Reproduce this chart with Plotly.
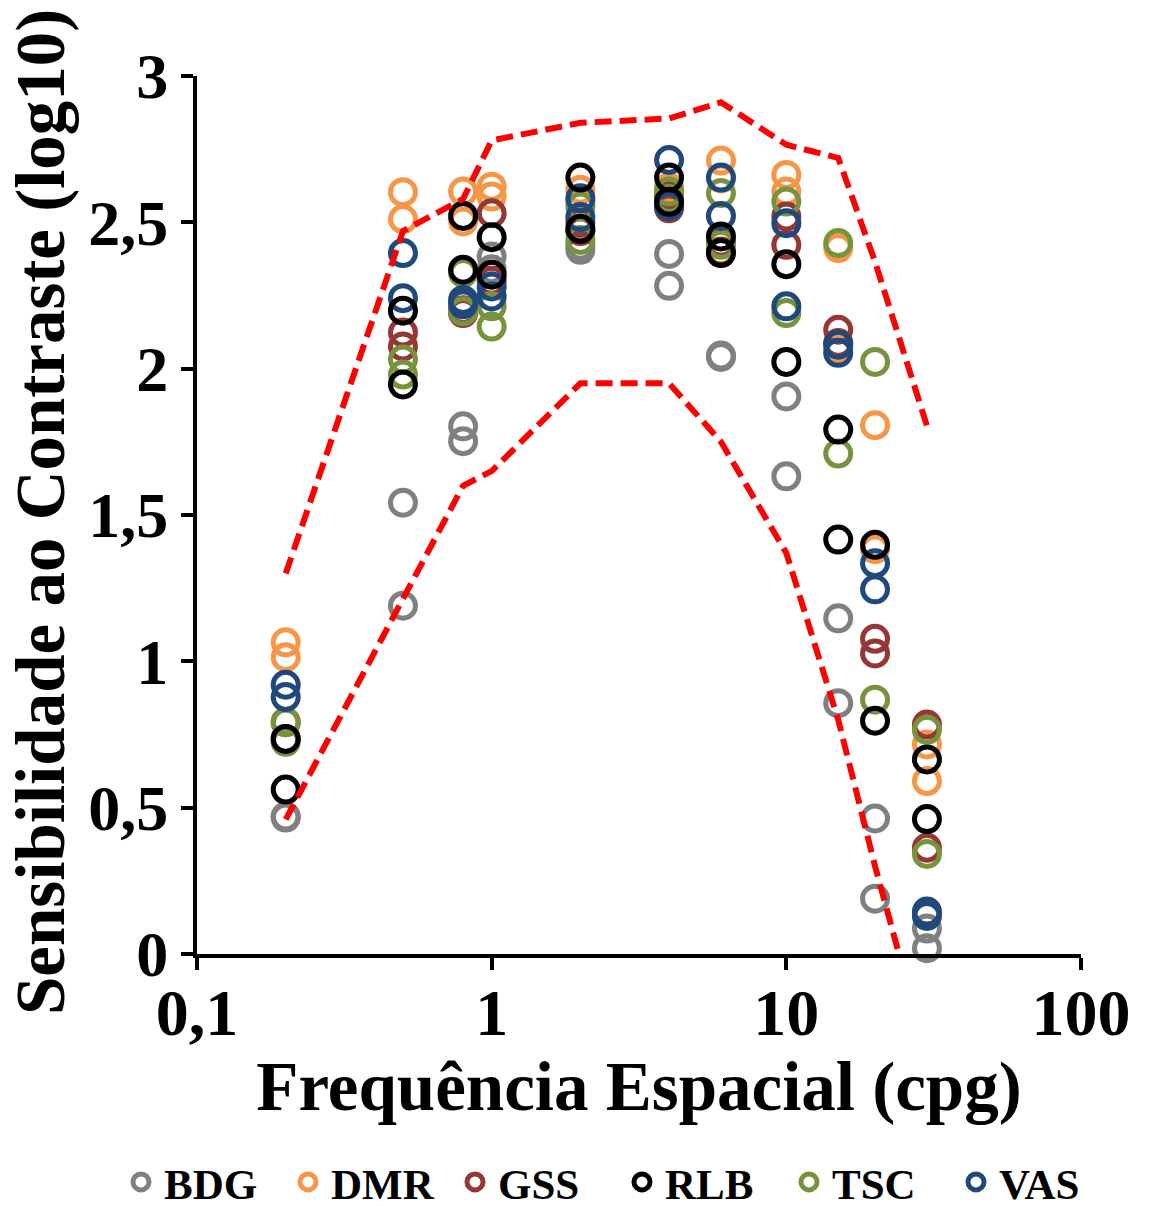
import plotly.graph_objects as go

freqs = [0.2, 0.5, 0.8, 1, 2, 4, 6, 10, 15, 20, 30]

bdg_a = [0.466, 1.542, 1.803, 2.383, 2.406, 2.392, 2.045, 1.905, 1.147, 0.463, 0.087]
bdg_b = [0.470, 1.190, 1.752, 2.340, 2.420, 2.283, 2.040, 1.632, 0.857, 0.189, 0.020]
dmr_a = [1.065, 2.603, 2.605, 2.622, 2.611, 2.620, 2.711, 2.662, 2.412, 1.807, 0.716]
dmr_b = [1.014, 2.511, 2.503, 2.588, 2.571, 2.600, 2.650, 2.605, 2.070, 1.383, 0.591]
gss_a = [0.792, 2.124, 2.190, 2.531, 2.500, 2.548, 2.430, 2.520, 2.133, 1.077, 0.784]
gss_b = [0.735, 2.076, 2.200, 2.300, 2.470, 2.590, 2.400, 2.423, 2.088, 1.027, 0.363]
rlb_a = [0.735, 2.198, 2.522, 2.449, 2.653, 2.653, 2.452, 2.357, 1.792, 1.398, 0.665]
rlb_b = [0.562, 1.946, 2.338, 2.321, 2.478, 2.570, 2.395, 2.023, 1.416, 0.797, 0.461]
tsc_a = [0.792, 2.031, 2.327, 2.213, 2.554, 2.605, 2.600, 2.571, 2.429, 2.023, 0.766]
tsc_b = [0.725, 1.980, 2.196, 2.144, 2.440, 2.580, 2.423, 2.190, 1.710, 0.869, 0.342]
vas_a = [0.920, 2.395, 2.235, 2.281, 2.582, 2.713, 2.653, 2.497, 2.082, 1.335, 0.145]
vas_b = [0.878, 2.241, 2.220, 2.247, 2.518, 2.556, 2.522, 2.213, 2.054, 1.246, 0.130]

upper_limit = [1.30, 2.47, 2.58, 2.78, 2.84, 2.855, 2.91, 2.765, 2.72, 2.365, 1.805]
lower_limit = [0.46, 1.22, 1.60, 1.65, 1.95, 1.95, 1.75, 1.37, 0.80, 0.30, -0.35]

x_tickvals = [0.1, 1, 10, 100]
x_ticktext = ["0,1", "1", "10", "100"]
y_tickvals = [0, 0.5, 1, 1.5, 2, 2.5, 3]
y_ticktext = ["0", "0,5", "1", "1,5", "2", "2,5", "3"]

FONT = "Liberation Serif"
W, H = 1163, 1208
ML, MR, MT, MB = 197, 82, 76, 254
plot_w = W - ML - MR
plot_h = H - MT - MB

# (name, a, b, color, legend rank) -- listed in drawing order
subjects = [
    ("BDG", bdg_a, bdg_b, "#808080", 1),
    ("DMR", dmr_a, dmr_b, "#F79646", 2),
    ("GSS", gss_a, gss_b, "#953735", 3),
    ("TSC", tsc_a, tsc_b, "#77933C", 5),
    ("VAS", vas_a, vas_b, "#1F497D", 6),
    ("RLB", rlb_a, rlb_b, "#000000", 4),
]

fig = go.Figure()
for name, a, b, color, rank in subjects:
    fig.add_trace(go.Scatter(
        x=freqs + freqs, y=a + b, mode="markers", name=name,
        legendrank=rank, cliponaxis=False,
        marker=dict(symbol="circle-open", size=25, color=color,
                    line=dict(width=5, color=color)),
    ))

for lim in (upper_limit, lower_limit):
    fig.add_trace(go.Scatter(
        x=freqs, y=lim, mode="lines", showlegend=False,
        line=dict(color="#FF0000", width=6, dash="17px,8px"),
    ))

fig.update_layout(
    width=W, height=H,
    margin=dict(l=ML, r=MR, t=MT, b=MB, autoexpand=False),
    paper_bgcolor="white", plot_bgcolor="white",
    font=dict(family=FONT, color="black"),
    showlegend=True,
    legend=dict(orientation="h",
                x=(118 - ML) / plot_w, xanchor="left",
                y=(H - MB - 1182) / plot_h, yanchor="middle",
                font=dict(family=FONT, size=43, weight="bold", color="black"),
                itemwidth=36, entrywidth=116, itemsizing="trace"),
    annotations=[dict(
        text="Sensibilidade ao Contraste (log10)", textangle=-90,
        xref="paper", yref="paper", x=(41 - ML) / plot_w,
        y=(H - MB - 512) / plot_h,
        xanchor="center", yanchor="middle", showarrow=False,
        font=dict(family=FONT, size=69, weight="bold", color="black"),
    )],
)

fig.update_xaxes(
    type="log", range=[-1, 2], tickvals=x_tickvals, ticktext=x_ticktext,
    showline=True, linecolor="black", linewidth=4, showgrid=False, zeroline=False,
    ticks="outside", ticklen=12, tickwidth=4, tickcolor="black",
    ticklabelstandoff=-14, automargin=False,
    tickfont=dict(family=FONT, size=66, weight="bold", color="black"),
    title=dict(text="Frequência Espacial (cpg)", standoff=10,
               font=dict(family=FONT, size=69, weight="bold", color="black")),
)
fig.update_yaxes(
    range=[0, 3], tickvals=y_tickvals, ticktext=y_ticktext,
    showline=True, linecolor="black", linewidth=4, showgrid=False, zeroline=False,
    ticks="outside", ticklen=12, tickwidth=4, tickcolor="black", automargin=False,
    tickfont=dict(family=FONT, size=64, weight="bold", color="black"),
)

fig.write_html("out.html")
